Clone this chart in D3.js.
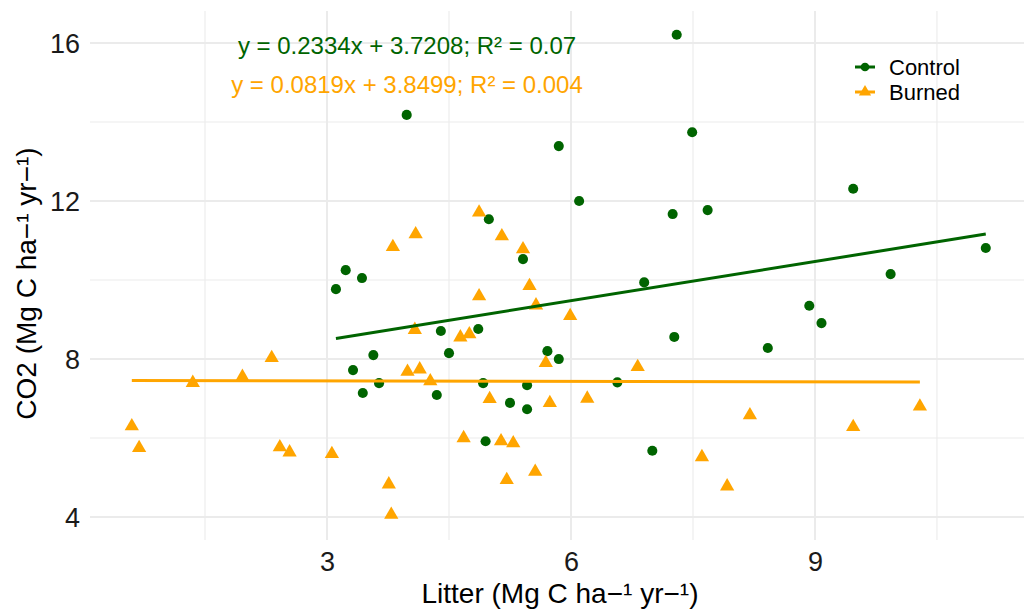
<!DOCTYPE html>
<html>
<head>
<meta charset="utf-8">
<script src="https://cdn.jsdelivr.net/npm/d3@7"></script>
<style>
  html, body { margin: 0; padding: 0; background: #fff; }
  svg { display: block; font-family: "Liberation Sans", Arial, sans-serif; }
</style>
</head>
<body>
<svg id="chart" width="1024" height="614"></svg>
<script>
// ---- Data ----
const controlLitter = [7.30, 3.98, 7.49, 5.85, 9.47, 6.10, 7.25, 7.68, 4.99, 11.10,
  3.23, 3.43, 3.11, 5.41, 9.93, 6.90, 8.93, 9.08, 7.27, 4.40,
  4.86, 4.50, 3.57, 5.71, 5.85, 8.42, 3.32, 3.64, 3.44, 4.92,
  5.46, 6.57, 4.35, 5.25, 5.46, 4.95, 7.00];
const controlCO2 = [16.21, 14.18, 13.74, 13.39, 12.31, 12.00, 11.67, 11.77, 11.54, 10.81,
  10.25, 10.05, 9.77, 10.53, 10.15, 9.94, 9.35, 8.91, 8.56, 8.71,
  8.76, 8.15, 8.10, 8.20, 8.00, 8.28, 7.72, 7.39, 7.14, 7.39,
  7.34, 7.41, 7.09, 6.89, 6.73, 5.92, 5.68];

const burnedLitter = [0.60, 0.69, 1.35, 1.96, 2.32, 2.42, 2.54, 3.06, 3.76, 3.79,
  3.81, 3.99, 4.08, 4.09, 4.14, 4.27, 4.64, 4.68, 4.75, 4.87,
  4.87, 5.00, 5.14, 5.15, 5.21, 5.29, 5.41, 5.49, 5.56, 5.57,
  5.69, 5.74, 5.99, 6.20, 6.82, 7.61, 7.92, 8.20, 9.47, 10.29];
const burnedCO2 = [6.30, 5.75, 7.40, 7.55, 8.03, 5.77, 5.64, 5.60, 4.83, 4.06,
  10.84, 7.68, 8.74, 11.16, 7.74, 7.44, 8.55, 6.00, 8.63, 11.71,
  9.59, 6.99, 5.92, 11.11, 4.94, 5.87, 10.78, 9.85, 5.15, 9.36,
  7.90, 6.89, 9.09, 7.00, 7.80, 5.52, 4.78, 6.58, 6.28, 6.80];

const seriesNames = ["Control", "Burned"];
const seriesColors = ["#006400", "#FFA500"];
const equations = ["y = 0.2334x + 3.7208; R² = 0.07", "y = 0.0819x + 3.8499; R² = 0.004"];

const xMajorTicks = [3, 6, 9];
const xMinorTicks = [1.5, 4.5, 7.5, 10.5];
const yMajorTicks = [4, 8, 12, 16];
const yMinorTicks = [6, 10, 14];

const xTitle = "Litter (Mg C ha\u2212\u00B9 yr\u2212\u00B9)";
const yTitle = "CO2 (Mg C ha\u2212\u00B9 yr\u2212\u00B9)";

// ---- Layout ----
const svg = d3.select("#chart");
const panel = { left: 90, right: 1024, top: 11, bottom: 540 };

const x = d3.scaleLinear().domain([0.086, 11.57]).range([panel.left, panel.right]);
const y = d3.scaleLinear().domain([3.42, 16.81]).range([panel.bottom, panel.top]);

const gridColor = "#ebebeb";

// minor grid
svg.append("g").selectAll("line").data(xMinorTicks).join("line")
  .attr("x1", d => x(d)).attr("x2", d => x(d))
  .attr("y1", panel.top).attr("y2", panel.bottom)
  .attr("stroke", gridColor).attr("stroke-width", 1.1);
svg.append("g").selectAll("line").data(yMinorTicks).join("line")
  .attr("x1", panel.left).attr("x2", panel.right)
  .attr("y1", d => y(d)).attr("y2", d => y(d))
  .attr("stroke", gridColor).attr("stroke-width", 1.1);
// major grid
svg.append("g").selectAll("line").data(xMajorTicks).join("line")
  .attr("x1", d => x(d)).attr("x2", d => x(d))
  .attr("y1", panel.top).attr("y2", panel.bottom)
  .attr("stroke", gridColor).attr("stroke-width", 2);
svg.append("g").selectAll("line").data(yMajorTicks).join("line")
  .attr("x1", panel.left).attr("x2", panel.right)
  .attr("y1", d => y(d)).attr("y2", d => y(d))
  .attr("stroke", gridColor).attr("stroke-width", 2);

// axes (labels only, ggplot minimal style)
const xAxis = d3.axisBottom(x).tickValues(xMajorTicks).tickSize(0).tickPadding(0).tickFormat(d3.format("d"));
const gx = svg.append("g").attr("transform", `translate(0,${panel.bottom})`).call(xAxis);
gx.select(".domain").remove();
gx.selectAll("text").attr("font-size", 27).attr("fill", "#1a1a1a")
  .attr("font-family", "Liberation Sans, Arial, sans-serif")
  .attr("dy", null).attr("y", 31);

const yAxis = d3.axisLeft(y).tickValues(yMajorTicks).tickSize(0).tickPadding(0).tickFormat(d3.format("d"));
const gy = svg.append("g").attr("transform", `translate(${panel.left},0)`).call(yAxis);
gy.select(".domain").remove();
gy.selectAll("text").attr("font-size", 27).attr("fill", "#1a1a1a")
  .attr("font-family", "Liberation Sans, Arial, sans-serif")
  .attr("x", -10).attr("dy", "0.35em");

// axis titles
svg.append("text").attr("x", 560).attr("y", 603)
  .attr("text-anchor", "middle").attr("font-size", 28).attr("fill", "#000")
  .text(xTitle);
svg.append("text")
  .attr("transform", `translate(36,${(panel.top + panel.bottom) / 2 + 8}) rotate(-90)`)
  .attr("text-anchor", "middle").attr("font-size", 28).attr("fill", "#000")
  .text(yTitle);

// data series
const series = [
  { name: seriesNames[0], color: seriesColors[0], xs: controlLitter, ys: controlCO2, shape: d3.symbolCircle },
  { name: seriesNames[1], color: seriesColors[1], xs: burnedLitter, ys: burnedCO2, shape: d3.symbolTriangle }
];

function linfit(xs, ys) {
  const n = xs.length;
  const mx = d3.mean(xs), my = d3.mean(ys);
  let sxy = 0, sxx = 0;
  for (let i = 0; i < n; i++) { sxy += (xs[i] - mx) * (ys[i] - my); sxx += (xs[i] - mx) ** 2; }
  const b = sxy / sxx;
  return { b, a: my - b * mx };
}

// points
series.forEach(s => {
  const pts = s.xs.map((v, i) => [v, s.ys[i]]);
  const sym = s.shape === d3.symbolCircle ? d3.symbol(d3.symbolCircle, 80) : d3.symbol(d3.symbolTriangle, 88);
  svg.append("g").selectAll("path").data(pts).join("path")
    .attr("d", sym)
    .attr("transform", d => `translate(${x(d[0])},${y(d[1])})`)
    .attr("fill", s.color);
});

// regression lines
series.forEach(s => {
  const f = linfit(s.xs, s.ys);
  const x0 = d3.min(s.xs), x1 = d3.max(s.xs);
  svg.append("line")
    .attr("x1", x(x0)).attr("y1", y(f.a + f.b * x0))
    .attr("x2", x(x1)).attr("y2", y(f.a + f.b * x1))
    .attr("stroke", s.color).attr("stroke-width", 3);
});

// equations
svg.append("text").attr("x", 407).attr("y", 54).attr("text-anchor", "middle")
  .attr("font-size", 24).attr("fill", seriesColors[0]).text(equations[0]);
svg.append("text").attr("x", 407).attr("y", 93).attr("text-anchor", "middle")
  .attr("font-size", 24).attr("fill", seriesColors[1]).text(equations[1]);

// legend
const legend = svg.append("g");
series.forEach((s, i) => {
  const cy = 67 + i * 25;
  legend.append("line").attr("x1", 855).attr("x2", 875).attr("y1", cy).attr("y2", cy)
    .attr("stroke", s.color).attr("stroke-width", 3);
  const sym = s.shape === d3.symbolCircle ? d3.symbol(d3.symbolCircle, 60) : d3.symbol(d3.symbolTriangle, 65);
  legend.append("path").attr("d", sym).attr("transform", `translate(865,${cy})`).attr("fill", s.color);
  legend.append("text").attr("x", 889).attr("y", cy + 8).attr("font-size", 22).attr("fill", "#000").text(s.name);
});
</script>
</body>
</html>
